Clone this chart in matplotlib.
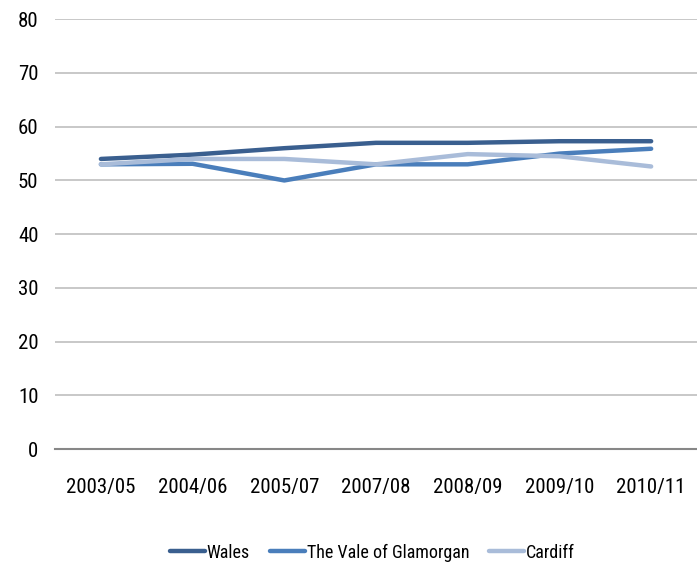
import numpy as np
import matplotlib.pyplot as plt

# ---------------- DATA ----------------

years = ["2003/05", "2004/06", "2005/07", "2007/08", "2008/09", "2009/10", "2010/11"]

wales = [54.0, 54.8, 56.0, 57.0, 57.0, 57.3, 57.3]
vale = [53.0, 53.1, 50.0, 53.0, 53.0, 55.0, 55.9]
cardiff = [53.0, 54.0, 54.0, 53.0, 54.9, 54.5, 52.6]

# ---------------- STYLE ----------------

plt.rcParams["font.family"] = ["DejaVu Sans Condensed", "Liberation Sans Narrow",
                               "Roboto Condensed", "DejaVu Sans"]
plt.rcParams["font.stretch"] = "condensed"

fig = plt.figure(figsize=(6.97, 5.65), dpi=100)
ax = fig.add_axes([0.079, 0.205, 0.921, 0.761])

x = np.arange(len(years))

ax.plot(x, wales, color="#3A5F8F", linewidth=3.2, label="Wales", solid_capstyle="round")
ax.plot(x, vale, color="#4A7EBB", linewidth=3.2, label="The Vale of Glamorgan", solid_capstyle="round")
ax.plot(x, cardiff, color="#A9BCD9", linewidth=3.2, label="Cardiff", solid_capstyle="round")

ax.set_xlim(-0.5, len(years) - 0.5)
ax.set_ylim(0, 80)
ax.set_yticks(range(0, 81, 10))
ax.set_xticks(x)
ax.set_xticklabels(years)

ax.yaxis.grid(True, color="#BFBFBF", linewidth=1.2)
ax.set_axisbelow(True)
for s in ["top", "right", "left"]:
    ax.spines[s].set_visible(False)
ax.spines["bottom"].set_color("#878787")
ax.spines["bottom"].set_linewidth(1.5)

ax.tick_params(axis="both", length=0, labelsize=15, colors="black")
ax.tick_params(axis="x", pad=21)
ax.tick_params(axis="y", pad=12)

fig.legend(loc="lower center", bbox_to_anchor=(0.534, -0.023), ncol=3, frameon=False,
           fontsize=13, handlelength=1.95, handletextpad=0.1, columnspacing=1.1)

plt.savefig("out.png", dpi=100)
